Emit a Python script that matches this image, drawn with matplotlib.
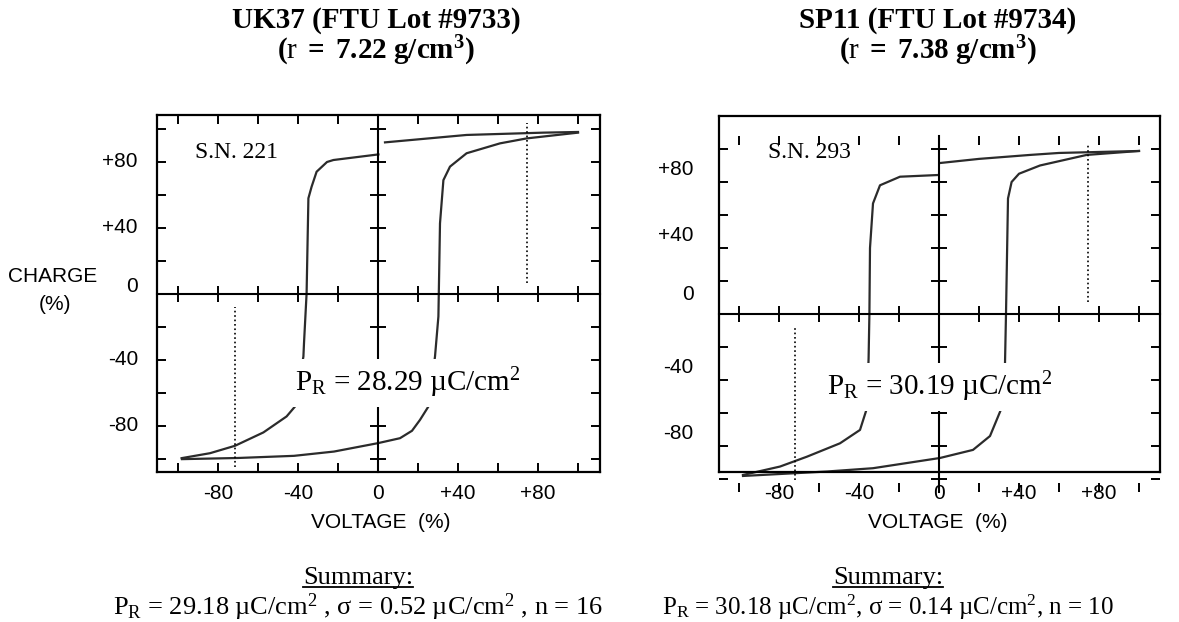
import numpy as np
import matplotlib
matplotlib.use('Agg')
import matplotlib.pyplot as plt
from matplotlib.lines import Line2D

plt.rcParams['mathtext.fontset'] = 'custom'
plt.rcParams['mathtext.rm'] = 'Liberation Serif'
plt.rcParams['mathtext.bf'] = 'Liberation Serif:bold'
plt.rcParams['mathtext.it'] = 'Liberation Serif:italic'

# --- dane (napiecie %, ladunek %) ---
uk_up_v = [-98, -70, -42, -22, 0, 11, 17, 21, 25.2, 28.5, 30.2, 31, 32.7, 36, 44.3, 61, 74.3, 100]
uk_up_q = [-100.2, -99.5, -98.2, -95.6, -90.5, -87.5, -83, -76.4, -68.3, -38, -13.7, 42.8, 69, 77.2, 85.3, 91.3, 94.3, 97.8]
uk_top_v = [3.5, 44.3, 82.7, 100]
uk_top_q = [91.9, 96.4, 97.8, 98.2]
uk_down_v = [0.2, -22.3, -25.5, -30.7, -33.2, -34.8, -35.7, -37, -37.3, -41.5, -45.7, -57.3, -71.5, -84, -98.2]
uk_down_q = [84.6, 81.2, 80, 74.1, 65, 58, 0.4, -29.9, -38, -68.3, -74.3, -84, -92.1, -96.6, -99.6]
uk_mark_v = [-71.5, 74.5]
uk_mark_lo = [-105, 6.7]
uk_mark_hi = [-8, 103.6]

sp_up_v = [-98, -56, -33, 0.5, 17, 25.5, 31.3, 33, 33.5, 34.5, 36.3, 40, 50.5, 73.8, 100]
sp_up_q = [-98.2, -95.5, -93.5, -87.3, -82.4, -74, -57, -30, 0, 70, 80, 85, 90, 96.4, 98.8]
sp_top_v = [0.5, 20, 45.5, 60, 100]
sp_top_q = [91.5, 94, 96.4, 97.6, 98.8]
sp_down_v = [-1, -19.5, -29.5, -33, -34.5, -34.8, -35.2, -36, -39.5, -49.5, -66, -79.5, -98]
sp_down_q = [84.2, 83.2, 78, 67, 40, 0, -26.7, -57, -70.3, -78.4, -86.5, -92.5, -97.6]
sp_mark_v = [-72, 74.5]
sp_mark_lo = [-100.6, 7.5]
sp_mark_hi = [-8.5, 103.6]

ticks = np.arange(-100, 101, 20)
ytick_vals = [80, 40, 0, -40, -80]
ytick_text = ['+80', '+40', '0', '-40', '-80']
xtick_vals = [-80, -40, 0, 40, 80]
xtick_text = ['-80', '-40', '0', '+40', '+80']

serif = 'Liberation Serif'
sans = 'Liberation Sans'

W, H = 1179, 622
fig = plt.figure(figsize=(W / 100, H / 100), dpi=100)


def frac(x0, y0, x1, y1):
    return [x0 / W, 1 - y1 / H, (x1 - x0) / W, (y1 - y0) / H]


def panel(frame_px, tick_px, xlim, ylim, tick_ylim, curves, marks,
          sn, sn_xy, pr, pr_xy, label_dy, label_dx):
    ax = fig.add_axes(frac(*frame_px))
    ax.set_xlim(xlim)
    ax.set_ylim(ylim)
    ax.set_xticks([])
    ax.set_yticks([])
    for s in ax.spines.values():
        s.set_linewidth(1.6)
    for v, q in curves:
        ax.plot(v, q, color='#2b2b2b', lw=1.6, clip_on=False)
    ax.vlines(marks[0], marks[1], marks[2], colors='black',
              linestyles=':', lw=1.2, clip_on=False)
    ax.text(sn_xy[0], sn_xy[1], sn, family=serif, fontsize=17,
            ha='left', va='center')
    for v, t in zip(ytick_vals, ytick_text):
        dy = label_dy + (4.5 if v == 0 else 0)
        ax.text(label_dx, v + dy, t, transform=ax.get_yaxis_transform(),
                ha='right', va='center', family=sans, fontsize=15)
    for v, t in zip(xtick_vals, xtick_text):
        ax.text(v, -0.059, t, transform=ax.get_xaxis_transform(),
                ha='center', va='center', family=sans, fontsize=15)

    # warstwa z kreskami podzialki
    tk = fig.add_axes(frac(*tick_px))
    tk.patch.set_visible(False)
    tk.set_xlim(xlim)
    tk.set_ylim(tick_ylim)
    for s in tk.spines.values():
        s.set_visible(False)
    tk.set_xticks(ticks)
    tk.set_yticks(ticks)
    tk.tick_params(direction='in', length=6.5, width=1.4, top=True, right=True,
                   labelbottom=False, labelleft=False)

    # osie przechodzace przez zero
    cr = fig.add_axes(frac(*tick_px))
    cr.patch.set_visible(False)
    cr.set_xlim(xlim)
    cr.set_ylim(tick_ylim)
    cr.spines['left'].set_position(('data', 0))
    cr.spines['bottom'].set_position(('data', 0))
    cr.spines['top'].set_visible(False)
    cr.spines['right'].set_visible(False)
    cr.spines['left'].set_linewidth(1.5)
    cr.spines['bottom'].set_linewidth(1.5)
    cr.set_xticks(ticks)
    cr.set_yticks(ticks)
    cr.tick_params(direction='inout', length=11, width=1.4,
                   labelbottom=False, labelleft=False)
    cr.text(pr_xy[0], pr_xy[1], pr, family=serif, fontsize=21,
            ha='left', va='center', zorder=5,
            bbox=dict(fc='white', ec='none', pad=5))


panel((157, 115, 600, 472), (157, 115, 600, 472), (-110.5, 111), (-108, 108.5), (-108, 108.5),
      [(uk_up_v, uk_up_q), (uk_top_v, uk_top_q), (uk_down_v, uk_down_q)],
      (uk_mark_v, uk_mark_lo, uk_mark_hi),
      'S.N. 221', (-91.5, 85.5),
      r'P$_{\mathrm{R}}$ = 28.29 µC/cm$^{\mathrm{2}}$', (-41.5, -54), 0, -0.043)

panel((719, 116, 1160, 472), (719, 136, 1160, 492), (-110, 110.5), (-95.8, 120), (-108, 108),
      [(sp_up_v, sp_up_q), (sp_top_v, sp_top_q), (sp_down_v, sp_down_q)],
      (sp_mark_v, sp_mark_lo, sp_mark_hi),
      'S.N. 293', (-85.5, 98),
      r'P$_{\mathrm{R}}$ = 30.19 µC/cm$^{\mathrm{2}}$', (-56, -44.2), 7.5, -0.057)


def ftext(x, y, s, **kw):
    return fig.text(x / W, 1 - y / H, s, **kw)


# tytuly
ftext(376, 21, 'UK37 (FTU Lot #9733)', family=serif, weight='bold', fontsize=21, ha='center', va='center')
ftext(376, 51, r'$\mathbf{(}$r$\mathbf{\ =\ 7.22\ g/cm^{3})}$', family=serif, fontsize=21, ha='center', va='center')
ftext(938, 21, 'SP11 (FTU Lot #9734)', family=serif, weight='bold', fontsize=21, ha='center', va='center')
ftext(938, 51, r'$\mathbf{(}$r$\mathbf{\ =\ 7.38\ g/cm^{3})}$', family=serif, fontsize=21, ha='center', va='center')

# opisy osi
ftext(53, 277, 'CHARGE', family=sans, fontsize=15, ha='center', va='center')
ftext(55, 305, '(%)', family=sans, fontsize=15, ha='center', va='center')
ftext(381, 522, 'VOLTAGE  (%)', family=sans, fontsize=15, ha='center', va='center')
ftext(938, 522, 'VOLTAGE  (%)', family=sans, fontsize=15, ha='center', va='center')

# podsumowanie
sum_left = ftext(358, 584, 'Summary:', family=serif, fontsize=19, ha='center', va='baseline')
sum_right = ftext(888, 584, 'Summary:', family=serif, fontsize=19, ha='center', va='baseline')
ftext(358, 615, r'P$_{\mathrm{R}}$ = 29.18 µC/cm$^{\mathrm{2}}$ , σ = 0.52 µC/cm$^{\mathrm{2}}$ , n = 16',
      family=serif, fontsize=19, ha='center', va='baseline')
ftext(888, 615, r'P$_{\mathrm{R}}$ = 30.18 µC/cm$^{\mathrm{2}}$, σ = 0.14 µC/cm$^{\mathrm{2}}$, n = 10',
      family=serif, fontsize=18, ha='center', va='baseline')

fig.canvas.draw()
for t in (sum_left, sum_right):
    bb = t.get_window_extent()
    yl = (H - 587) / H
    fig.add_artist(Line2D([bb.x0 / W, bb.x1 / W], [yl, yl], color='black', lw=1.3))

fig.savefig('out.png', dpi=100)
